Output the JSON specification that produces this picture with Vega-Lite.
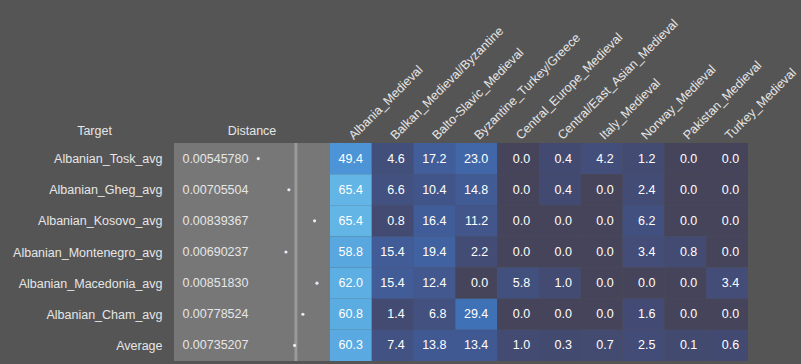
{
  "$schema": "https://vega.github.io/schema/vega-lite/v6.json",
  "background": "#555555",
  "padding": {"left": 12, "top": 16, "right": 5, "bottom": 3},
  "config": {
    "view": {"stroke": null},
    "font": "Liberation Sans",
    "axis": {"labelFont": "Liberation Sans", "titleFont": "Liberation Sans"},
    "title": {"font": "Liberation Sans"}
  },
  "datasets": {
    "dist": [
      {"Target": "Albanian_Tosk_avg", "Distance": 0.0054578},
      {"Target": "Albanian_Gheg_avg", "Distance": 0.00705504},
      {"Target": "Albanian_Kosovo_avg", "Distance": 0.00839367},
      {"Target": "Albanian_Montenegro_avg", "Distance": 0.00690237},
      {"Target": "Albanian_Macedonia_avg", "Distance": 0.0085183},
      {"Target": "Albanian_Cham_avg", "Distance": 0.00778524},
      {"Target": "Average", "Distance": 0.00735207}
    ],
    "mix": [
      {"Target": "Albanian_Tosk_avg", "Population": "Albania_Medieval", "Value": 49.4},
      {"Target": "Albanian_Tosk_avg", "Population": "Balkan_Medieval/Byzantine", "Value": 4.6},
      {"Target": "Albanian_Tosk_avg", "Population": "Balto-Slavic_Medieval", "Value": 17.2},
      {"Target": "Albanian_Tosk_avg", "Population": "Byzantine_Turkey/Greece", "Value": 23.0},
      {"Target": "Albanian_Tosk_avg", "Population": "Central_Europe_Medieval", "Value": 0.0},
      {"Target": "Albanian_Tosk_avg", "Population": "Central/East_Asian_Medieval", "Value": 0.4},
      {"Target": "Albanian_Tosk_avg", "Population": "Italy_Medieval", "Value": 4.2},
      {"Target": "Albanian_Tosk_avg", "Population": "Norway_Medieval", "Value": 1.2},
      {"Target": "Albanian_Tosk_avg", "Population": "Pakistan_Medieval", "Value": 0.0},
      {"Target": "Albanian_Tosk_avg", "Population": "Turkey_Medieval", "Value": 0.0},
      {"Target": "Albanian_Gheg_avg", "Population": "Albania_Medieval", "Value": 65.4},
      {"Target": "Albanian_Gheg_avg", "Population": "Balkan_Medieval/Byzantine", "Value": 6.6},
      {"Target": "Albanian_Gheg_avg", "Population": "Balto-Slavic_Medieval", "Value": 10.4},
      {"Target": "Albanian_Gheg_avg", "Population": "Byzantine_Turkey/Greece", "Value": 14.8},
      {"Target": "Albanian_Gheg_avg", "Population": "Central_Europe_Medieval", "Value": 0.0},
      {"Target": "Albanian_Gheg_avg", "Population": "Central/East_Asian_Medieval", "Value": 0.4},
      {"Target": "Albanian_Gheg_avg", "Population": "Italy_Medieval", "Value": 0.0},
      {"Target": "Albanian_Gheg_avg", "Population": "Norway_Medieval", "Value": 2.4},
      {"Target": "Albanian_Gheg_avg", "Population": "Pakistan_Medieval", "Value": 0.0},
      {"Target": "Albanian_Gheg_avg", "Population": "Turkey_Medieval", "Value": 0.0},
      {"Target": "Albanian_Kosovo_avg", "Population": "Albania_Medieval", "Value": 65.4},
      {"Target": "Albanian_Kosovo_avg", "Population": "Balkan_Medieval/Byzantine", "Value": 0.8},
      {"Target": "Albanian_Kosovo_avg", "Population": "Balto-Slavic_Medieval", "Value": 16.4},
      {"Target": "Albanian_Kosovo_avg", "Population": "Byzantine_Turkey/Greece", "Value": 11.2},
      {"Target": "Albanian_Kosovo_avg", "Population": "Central_Europe_Medieval", "Value": 0.0},
      {"Target": "Albanian_Kosovo_avg", "Population": "Central/East_Asian_Medieval", "Value": 0.0},
      {"Target": "Albanian_Kosovo_avg", "Population": "Italy_Medieval", "Value": 0.0},
      {"Target": "Albanian_Kosovo_avg", "Population": "Norway_Medieval", "Value": 6.2},
      {"Target": "Albanian_Kosovo_avg", "Population": "Pakistan_Medieval", "Value": 0.0},
      {"Target": "Albanian_Kosovo_avg", "Population": "Turkey_Medieval", "Value": 0.0},
      {"Target": "Albanian_Montenegro_avg", "Population": "Albania_Medieval", "Value": 58.8},
      {"Target": "Albanian_Montenegro_avg", "Population": "Balkan_Medieval/Byzantine", "Value": 15.4},
      {"Target": "Albanian_Montenegro_avg", "Population": "Balto-Slavic_Medieval", "Value": 19.4},
      {"Target": "Albanian_Montenegro_avg", "Population": "Byzantine_Turkey/Greece", "Value": 2.2},
      {"Target": "Albanian_Montenegro_avg", "Population": "Central_Europe_Medieval", "Value": 0.0},
      {"Target": "Albanian_Montenegro_avg", "Population": "Central/East_Asian_Medieval", "Value": 0.0},
      {"Target": "Albanian_Montenegro_avg", "Population": "Italy_Medieval", "Value": 0.0},
      {"Target": "Albanian_Montenegro_avg", "Population": "Norway_Medieval", "Value": 3.4},
      {"Target": "Albanian_Montenegro_avg", "Population": "Pakistan_Medieval", "Value": 0.8},
      {"Target": "Albanian_Montenegro_avg", "Population": "Turkey_Medieval", "Value": 0.0},
      {"Target": "Albanian_Macedonia_avg", "Population": "Albania_Medieval", "Value": 62.0},
      {"Target": "Albanian_Macedonia_avg", "Population": "Balkan_Medieval/Byzantine", "Value": 15.4},
      {"Target": "Albanian_Macedonia_avg", "Population": "Balto-Slavic_Medieval", "Value": 12.4},
      {"Target": "Albanian_Macedonia_avg", "Population": "Byzantine_Turkey/Greece", "Value": 0.0},
      {"Target": "Albanian_Macedonia_avg", "Population": "Central_Europe_Medieval", "Value": 5.8},
      {"Target": "Albanian_Macedonia_avg", "Population": "Central/East_Asian_Medieval", "Value": 1.0},
      {"Target": "Albanian_Macedonia_avg", "Population": "Italy_Medieval", "Value": 0.0},
      {"Target": "Albanian_Macedonia_avg", "Population": "Norway_Medieval", "Value": 0.0},
      {"Target": "Albanian_Macedonia_avg", "Population": "Pakistan_Medieval", "Value": 0.0},
      {"Target": "Albanian_Macedonia_avg", "Population": "Turkey_Medieval", "Value": 3.4},
      {"Target": "Albanian_Cham_avg", "Population": "Albania_Medieval", "Value": 60.8},
      {"Target": "Albanian_Cham_avg", "Population": "Balkan_Medieval/Byzantine", "Value": 1.4},
      {"Target": "Albanian_Cham_avg", "Population": "Balto-Slavic_Medieval", "Value": 6.8},
      {"Target": "Albanian_Cham_avg", "Population": "Byzantine_Turkey/Greece", "Value": 29.4},
      {"Target": "Albanian_Cham_avg", "Population": "Central_Europe_Medieval", "Value": 0.0},
      {"Target": "Albanian_Cham_avg", "Population": "Central/East_Asian_Medieval", "Value": 0.0},
      {"Target": "Albanian_Cham_avg", "Population": "Italy_Medieval", "Value": 0.0},
      {"Target": "Albanian_Cham_avg", "Population": "Norway_Medieval", "Value": 1.6},
      {"Target": "Albanian_Cham_avg", "Population": "Pakistan_Medieval", "Value": 0.0},
      {"Target": "Albanian_Cham_avg", "Population": "Turkey_Medieval", "Value": 0.0},
      {"Target": "Average", "Population": "Albania_Medieval", "Value": 60.3},
      {"Target": "Average", "Population": "Balkan_Medieval/Byzantine", "Value": 7.4},
      {"Target": "Average", "Population": "Balto-Slavic_Medieval", "Value": 13.8},
      {"Target": "Average", "Population": "Byzantine_Turkey/Greece", "Value": 13.4},
      {"Target": "Average", "Population": "Central_Europe_Medieval", "Value": 1.0},
      {"Target": "Average", "Population": "Central/East_Asian_Medieval", "Value": 0.3},
      {"Target": "Average", "Population": "Italy_Medieval", "Value": 0.7},
      {"Target": "Average", "Population": "Norway_Medieval", "Value": 2.5},
      {"Target": "Average", "Population": "Pakistan_Medieval", "Value": 0.1},
      {"Target": "Average", "Population": "Turkey_Medieval", "Value": 0.6}
    ]
  },
  "bounds": "flush",
  "spacing": 0,
  "resolve": {"scale": {"x": "independent", "y": "independent"}},
  "hconcat": [
    {
      "data": {"name": "dist"},
      "width": 156,
      "height": 218,
      "title": {"text": "Distance", "color": "#e6e6e6", "fontSize": 12.5, "fontWeight": "normal", "offset": -13},
      "view": {"fill": "#777777", "stroke": null},
      "layer": [
        {
          "mark": {"type": "text", "align": "left", "baseline": "middle", "fontSize": 12.5, "color": "#e6e6e6"},
          "encoding": {
            "x": {"datum": 0.0015, "type": "quantitative", "scale": {"domain": [0.00106, 0.0092], "nice": false, "zero": false}, "axis": null},
            "y": {
              "field": "Target", "type": "nominal",
              "sort": ["Albanian_Tosk_avg", "Albanian_Gheg_avg", "Albanian_Kosovo_avg", "Albanian_Montenegro_avg", "Albanian_Macedonia_avg", "Albanian_Cham_avg", "Average"],
              "scale": {"paddingInner": 0, "paddingOuter": 0},
              "axis": {
                "title": "Target", "titleAngle": 0, "titleX": -80, "titleY": -9, "titleAlign": "center", "titleBaseline": "alphabetic",
                "titleColor": "#e6e6e6", "titleFontSize": 12.5, "titleFontWeight": "normal",
                "labelColor": "#e6e6e6", "labelFontSize": 12.5, "labelPadding": 12, "labelLimit": 300,
                "ticks": false, "domain": false, "grid": false
              }
            },
            "text": {"field": "Distance", "type": "quantitative", "format": ".8f"}
          }
        },
        {
          "transform": [
            {"filter": "datum.Target != 'Average'"},
            {"aggregate": [{"op": "median", "field": "Distance", "as": "med"}]}
          ],
          "mark": {"type": "rule", "color": "#9a9a9a", "strokeWidth": 3},
          "encoding": {"x": {"field": "med", "type": "quantitative"}}
        },
        {
          "mark": {"type": "point", "filled": true, "size": 10, "color": "#e4ecf6", "opacity": 1},
          "encoding": {
            "x": {"field": "Distance", "type": "quantitative"},
            "y": {"field": "Target", "type": "nominal", "sort": ["Albanian_Tosk_avg", "Albanian_Gheg_avg", "Albanian_Kosovo_avg", "Albanian_Montenegro_avg", "Albanian_Macedonia_avg", "Albanian_Cham_avg", "Average"]}
          }
        }
      ]
    },
    {
      "data": {"name": "mix"},
      "width": 418,
      "height": 218,
      "encoding": {
        "x": {
          "field": "Population", "type": "nominal",
          "sort": ["Albania_Medieval", "Balkan_Medieval/Byzantine", "Balto-Slavic_Medieval", "Byzantine_Turkey/Greece", "Central_Europe_Medieval", "Central/East_Asian_Medieval", "Italy_Medieval", "Norway_Medieval", "Pakistan_Medieval", "Turkey_Medieval"],
          "scale": {"paddingInner": 0, "paddingOuter": 0},
          "axis": {
            "orient": "top", "title": null, "labelAngle": -45, "labelAlign": "left", "labelBaseline": "middle",
            "labelColor": "#e6e6e6", "labelFontSize": 12.5, "labelPadding": 6, "labelLimit": 300,
            "ticks": false, "domain": false, "grid": false
          }
        },
        "y": {
          "field": "Target", "type": "nominal",
          "sort": ["Albanian_Tosk_avg", "Albanian_Gheg_avg", "Albanian_Kosovo_avg", "Albanian_Montenegro_avg", "Albanian_Macedonia_avg", "Albanian_Cham_avg", "Average"],
          "scale": {"paddingInner": 0, "paddingOuter": 0},
          "axis": null
        }
      },
      "layer": [
        {
          "mark": {"type": "rect"},
          "encoding": {
            "color": {
              "condition": {"test": "datum.Value == 0", "value": "#45445a"},
              "field": "Value", "type": "quantitative",
              "scale": {"domain": [0.1, 6, 15, 30, 50, 65.4], "range": ["#434a70", "#42507e", "#415b96", "#3f72b7", "#4c95d6", "#63b5e6"]},
              "legend": null
            }
          }
        },
        {
          "mark": {"type": "text", "align": "right", "baseline": "middle", "dx": 12, "fontSize": 12.5, "color": "#ffffff"},
          "encoding": {"text": {"field": "Value", "type": "quantitative", "format": ".1f"}}
        }
      ]
    }
  ]
}
